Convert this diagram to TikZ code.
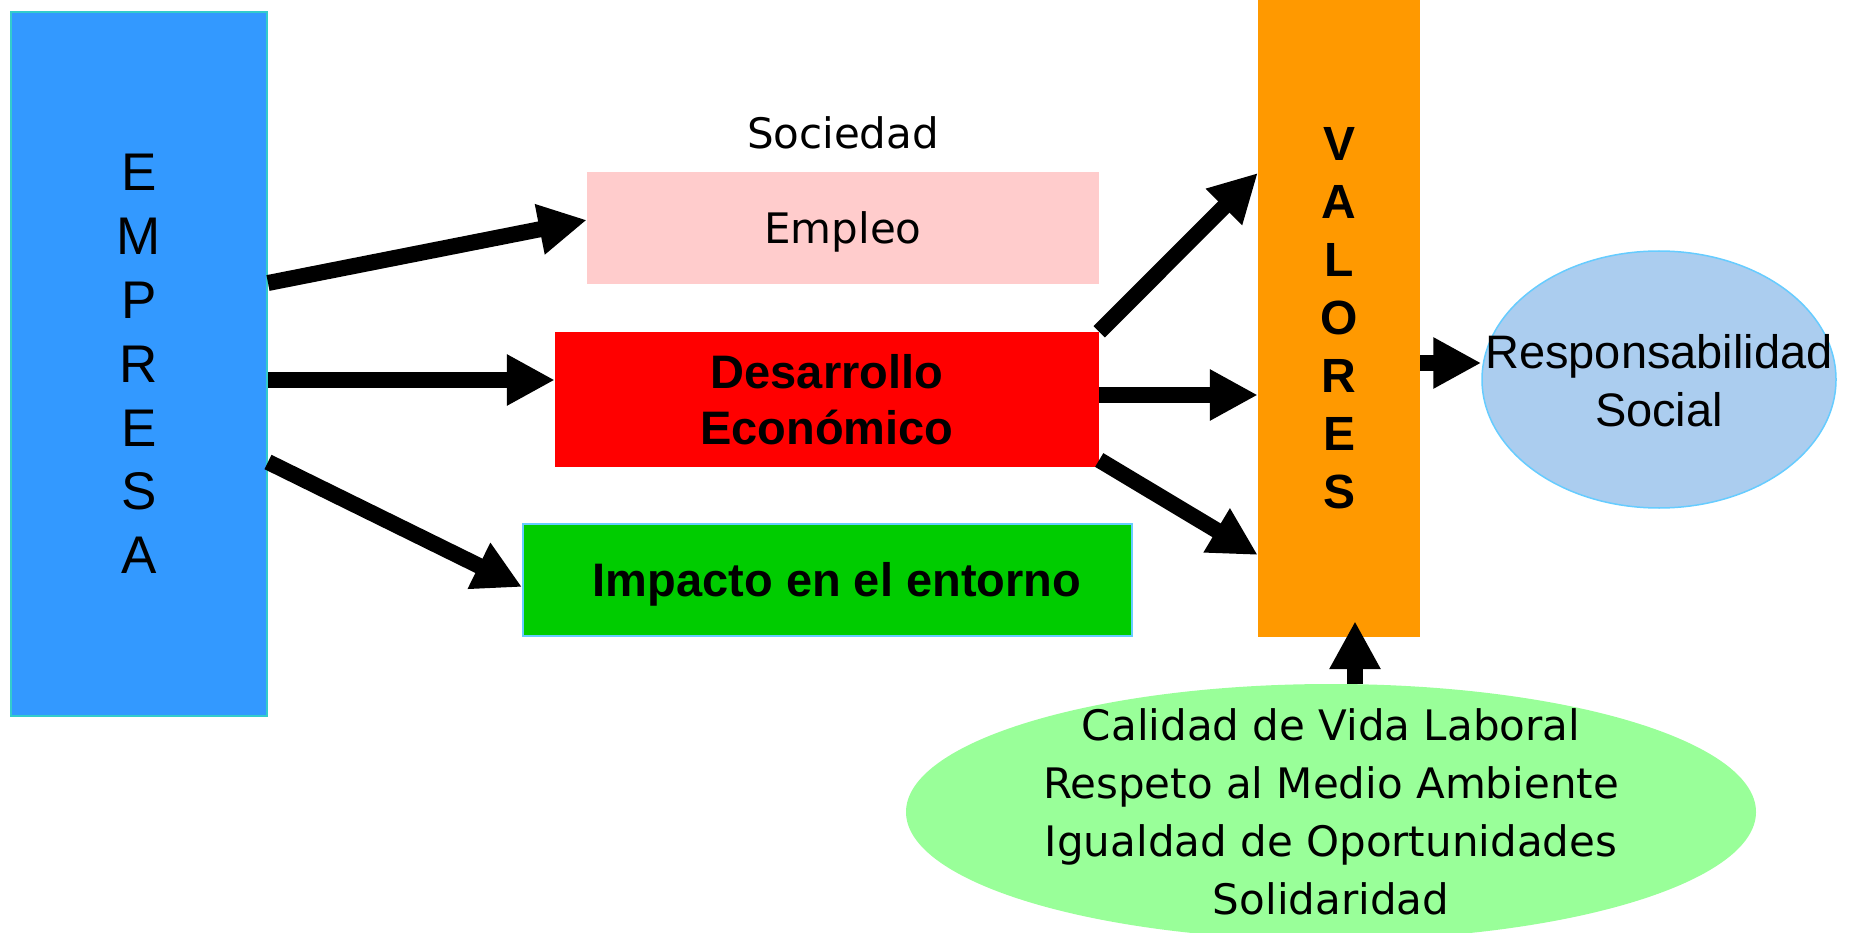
\documentclass[tikz,border=0pt]{standalone}
\usepackage{fontspec}
\setmainfont{Liberation Sans}
\newfontfamily\verd{DejaVu Sans}
\usetikzlibrary{arrows.meta,shapes.geometric}
\definecolor{empblue}{HTML}{3399FF}
\definecolor{empedge}{HTML}{33CCCC}
\definecolor{emppink}{HTML}{FFCCCC}
\definecolor{valorange}{HTML}{FF9900}
\definecolor{impgreen}{HTML}{00CC00}
\definecolor{edgeblue}{HTML}{66CCFF}
\definecolor{respblue}{HTML}{ABCDEF}
\definecolor{calgreen}{HTML}{99FF99}
\tikzset{
  box/.style={rectangle, inner sep=0pt, anchor=center},
  arr/.style={line width=16pt, -{Triangle[length=48pt,width=48pt]}},
  verdtxt/.style={font=\verd\fontsize{42}{57}\selectfont, align=center, inner sep=0pt},
  boldtxt/.style={font=\bfseries\fontsize{47}{56}\selectfont, align=center, inner sep=0pt},
}
\begin{document}
\begin{tikzpicture}[x=1pt,y=-1pt]
\useasboundingbox (0,0) rectangle (1858,933);
\clip (0,0) rectangle (1858,933);
% EMPRESA
\node[box, fill=empblue, draw=empedge, line width=2pt, minimum width=256pt, minimum height=704pt,
      font=\fontsize{53}{63.8}\selectfont, align=center] (emp) at (139,364)
  {E\\M\\P\\R\\E\\S\\A};
% Sociedad
\node[verdtxt] (soc) at (843,133) {Sociedad};
% Empleo
\node[box, fill=emppink, minimum width=512pt, minimum height=112pt, verdtxt, text depth=0pt] (empleo) at (843,228) {Empleo};
% Desarrollo
\node[box, fill=red, minimum width=544pt, minimum height=135pt, boldtxt] (des) at (827,399.5)
  {Desarrollo\\Econ\'omico};
% Impacto
\node[box, fill=impgreen, draw=edgeblue, line width=2pt, minimum width=609pt, minimum height=112pt] (imp) at (827.5,580) {};
\node[boldtxt] (imptxt) at (837,584) {Impacto en el entorno};
% VALORES
\node[box, fill=valorange, minimum width=162pt, minimum height=637pt,
      font=\bfseries\fontsize{48}{58}\selectfont, align=center] (val) at (1339,318.5)
  {V\\A\\L\\O\\R\\E\\S};
% Responsabilidad Social
\node[ellipse, fill=respblue, draw=edgeblue, line width=1.5pt, minimum width=354pt, minimum height=257pt, inner sep=0pt] (resp) at (1659,379.5) {};
\node[font=\fontsize{47}{58}\selectfont, align=center, inner sep=0pt] (resptxt) at (1659,381)
  {Responsabilidad\\Social};
% Calidad ellipse
\node[ellipse, fill=calgreen, minimum width=850pt, minimum height=256pt, inner sep=0pt] (cal) at (1331,812) {};
\node[verdtxt, font=\verd\fontsize{42}{58}\selectfont] (caltxt) at (1331,812)
  {Calidad de Vida Laboral\\Respeto al Medio Ambiente\\Igualdad de Oportunidades\\Solidaridad};
% arrows from EMPRESA
\draw[arr] ([yshift=81pt]emp.east) -- ([yshift=8pt]empleo.west);
\draw[arr] ([yshift=-16pt]emp.east) -- ([yshift=19.5pt]des.west);
\draw[arr] ([yshift=-98pt]emp.east) -- ([yshift=-7pt]imp.west);
% arrows to VALORES
\draw[arr] (des.north east) -- ([yshift=145.5pt]val.west);
\draw[arr] ([yshift=4.5pt]des.east) -- ([yshift=-76.5pt]val.west);
\draw[arr] ([yshift=-60.5pt]des.east) -- ([yshift=-236.5pt]val.west);
% VALORES to Responsabilidad
\draw[arr] ([yshift=-44.5pt]val.east) -- ([yshift=16.5pt]resp.west);
% Calidad to VALORES
\draw[arr] ([xshift=24pt]cal.north) -- ([xshift=16pt,yshift=16pt]val.south);
\end{tikzpicture}
\end{document}
